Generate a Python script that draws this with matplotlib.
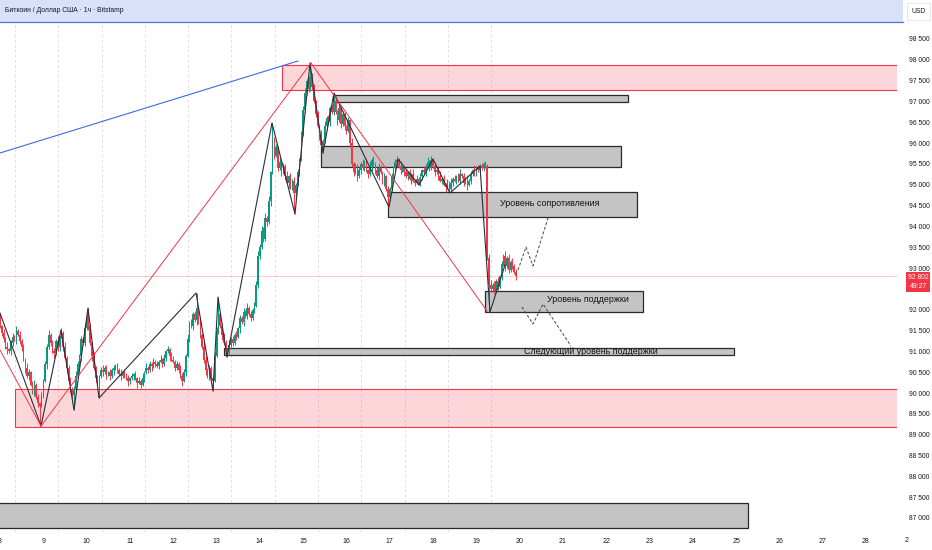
import matplotlib
matplotlib.use("Agg")
import matplotlib.pyplot as plt
from matplotlib.patches import Rectangle
import numpy as np

# hourly candles from Feb 8 00:00, closes in thousands of USD, one row per day
first_open_k = 91.75
closes_k = [
    # Feb 8
    91.60, 91.45, 91.30, 91.10, 91.05, 91.00, 91.20, 91.35, 91.30, 91.50, 91.40, 91.25,
    91.10, 90.80, 90.60, 90.40, 90.50, 90.20, 90.05, 90.20, 89.90, 89.75, 89.70, 89.95,
    # Feb 9
    90.30, 90.70, 91.10, 91.40, 91.20, 91.00, 90.95, 91.25, 91.10, 91.35, 91.45, 91.10,
    90.85, 90.60, 90.30, 90.10, 89.95, 90.10, 90.40, 90.70, 90.90, 91.30, 91.20, 91.55,
    # Feb 10
    91.80, 91.60, 91.20, 90.90, 90.60, 90.35, 90.20, 90.40, 90.55, 90.50, 90.60, 90.45,
    90.50, 90.40, 90.55, 90.60, 90.65, 90.55, 90.45, 90.40, 90.50, 90.45, 90.35, 90.30,
    # Feb 11
    90.35, 90.40, 90.45, 90.35, 90.25, 90.30, 90.20, 90.35, 90.50, 90.60, 90.55, 90.70,
    90.65, 90.75, 90.70, 90.65, 90.75, 90.80, 90.70, 90.85, 91.00, 91.05, 90.90, 90.80,
    # Feb 12
    90.75, 90.60, 90.70, 90.55, 90.40, 90.30, 90.50, 90.90, 91.30, 91.70, 91.60, 91.90,
    91.75, 92.05, 91.70, 91.40, 91.10, 90.80, 90.55, 90.40, 90.60, 90.35, 90.30, 90.90,
    # Feb 13
    91.50, 91.90, 91.60, 91.40, 91.20, 91.05, 91.00, 91.15, 91.30, 91.20, 91.40, 91.35,
    91.55, 91.80, 91.70, 91.95, 91.85, 92.05, 91.90, 91.80, 92.00, 92.10, 92.60, 93.30,
    # Feb 14
    93.50, 93.90, 93.70, 94.20, 94.10, 94.60, 95.30, 96.10, 95.70, 95.90, 95.40, 95.55,
    95.30, 95.45, 95.20, 95.05, 95.20, 94.95, 95.10, 94.80, 95.00, 95.30, 95.60, 96.20,
    # Feb 15
    96.80, 97.20, 97.50, 97.30, 97.60, 97.35, 97.00, 96.70, 96.40, 96.20, 95.95, 96.05,
    96.40, 96.60, 96.50, 96.85, 96.75, 97.00, 96.75, 96.55, 96.85, 96.45, 96.70, 96.40,
    # Feb 16
    96.30, 96.55, 96.00, 95.50, 95.30, 95.45, 95.20, 95.35, 95.50, 95.40, 95.55, 95.35,
    95.25, 95.45, 95.60, 95.50, 95.35, 95.20, 95.40, 95.30, 95.10, 95.20, 94.90, 94.70,
    # Feb 17
    94.90, 95.20, 95.40, 95.55, 95.60, 95.45, 95.35, 95.40, 95.30, 95.20, 95.30, 95.15,
    95.25, 95.10, 95.05, 95.15, 95.00, 95.20, 95.35, 95.30, 95.45, 95.55, 95.40, 95.60,
    # Feb 18
    95.45, 95.30, 95.35, 95.20, 95.10, 95.15, 95.00, 94.95, 95.05, 94.90, 95.05, 95.15,
    95.10, 95.20, 95.10, 95.25, 95.20, 95.05, 95.15, 95.00, 95.10, 95.25, 95.35, 95.30,
    # Feb 19
    95.40, 95.35, 95.45, 95.40, 95.50, 95.45, 93.25, 92.60, 92.50, 92.60, 92.45, 92.70,
    92.55, 92.80, 93.10, 93.30, 93.05, 93.25, 92.95, 93.15, 93.05, 92.90, 92.80,
]

# wick lengths beyond the body, one digit per candle, in steps of 40 USD
upper_wicks = (
    "212131221312121321231212" "122312213121312212321213" "312121212312121212131212"
    "121212131312121213121212" "212132213121221313212112" "231212131212121213121223"
    "232313121213121312121212" "231322212131312121213121" "121312121312131212321212"
    "121221321212131212121312" "121231212131212312121213" "12121212312121213121212"
)
lower_wicks = (
    "122131221312213121231221" "213121312212131221212312" "121312121213121312121213"
    "212131212121312121212131" "121213121212131212312121" "121312121212131212121212"
    "212121312121212131212121" "121212121312121212131212" "212121312121213121212312"
    "212131212121312121212121" "121212131212121212131212" "21212121212121213121212"
)
# wick extremes (candle index -> thousands USD)
high_marks = {0: 91.92, 34: 91.55, 49: 92.04, 109: 92.40, 121: 92.30, 151: 96.48,
              172: 97.92, 185: 97.20, 220: 95.70, 239: 95.68, 266: 95.50}
low_marks = {22: 89.21, 41: 89.60, 55: 89.88, 118: 90.05, 126: 90.87, 163: 94.30,
             179: 95.76, 215: 94.47, 232: 95.00, 249: 94.85, 270: 93.20, 271: 91.95}

last_price = 92802
countdown = "49:27"

# zones (day from, day to, price low, price high)
pink_zones = [(14.51, 40.0, 97270, 97880), (8.35, 40.0, 89190, 90100)]
gray_boxes = [(15.69, 22.50, 96990, 97150), (15.41, 22.34, 95430, 95930),
              (16.96, 22.71, 94230, 94830), (19.20, 22.85, 91950, 92450),
              (13.17, 24.95, 90920, 91080), (7.00, 25.27, 86750, 87360)]
box_labels = [("Уровень сопротивления", 20.70, 94540),
              ("Уровень поддержки", 21.57, 92240),
              ("Следующий уровень поддержки", 21.64, 91000)]

# drawn lines (day, price)
zigzag = [(8.000, 91921), (8.947, 89208), (9.409, 91513), (9.709, 89592), (10.032, 92041),
          (10.286, 89880), (12.527, 92401), (12.919, 90049), (13.035, 92305), (13.242, 90865),
          (14.282, 96483), (14.813, 94298), (15.159, 97924), (15.460, 95763), (15.714, 97203),
          (16.984, 94466), (17.192, 95619), (17.677, 94995), (17.999, 95619), (18.393, 94802),
          (19.085, 95451), (19.316, 91945), (19.663, 93074)]
red_lines = [[(8.0, 91033), (8.947, 89208)],
             [(8.947, 89208), (15.182, 97924)],
             [(15.182, 97924), (19.247, 91969)]]
blue_line = [(8.0, 95763), (14.882, 97972)]
path_up = [(19.963, 92954), (20.148, 93506), (20.309, 93050), (20.656, 94202)]
path_down = [(20.055, 92065), (20.309, 91657), (20.540, 92137), (21.187, 91129)]

day_ticks = list(range(8, 29))
price_ticks = list(range(87000, 99000, 500))

UP, DOWN = "#089981", "#f23645"
FONT = ["Liberation Sans Narrow", "Liberation Sans", "DejaVu Sans"]
plt.rcParams["font.family"] = FONT

W, H = 932, 550
fig = plt.figure(figsize=(W / 100, H / 100), dpi=100)
ax = fig.add_axes([0, 18 / H, 897 / W, 532 / H])
px_per_day = 43.3
usd_per_px = 24.01
ax.set_xlim(8.0, 8.0 + 897 / px_per_day)
ax.set_ylim(98500 - (532 - 39) * usd_per_px, 98500 + 39 * usd_per_px)
for s in ax.spines.values():
    s.set_visible(False)

# session grid
for d in range(8, 20):
    ax.axvline(d + 0.346, color="#d6d9e0", lw=0.6, ls=(0, (3, 3)), zorder=0)

for x0, x1, lo, hi in pink_zones:
    ax.add_patch(Rectangle((x0, lo), x1 - x0, hi - lo, facecolor=(0.95, 0.21, 0.27, 0.2),
                           edgecolor="#f23645", lw=0.8, zorder=1))
for x0, x1, lo, hi in gray_boxes:
    ax.add_patch(Rectangle((x0, lo), x1 - x0, hi - lo, facecolor="#c4c4c4",
                           edgecolor="#2a2a2a", lw=0.9, zorder=2))

# candles
closes = np.array(closes_k) * 1000
opens = np.concatenate([[first_open_k * 1000], closes[:-1]])
n = len(closes)
t = 8.0 + np.arange(n) / 24
highs = np.maximum(opens, closes) + np.array([int(c) for c in upper_wicks[:n]]) * 40
lows = np.minimum(opens, closes) - np.array([int(c) for c in lower_wicks[:n]]) * 40
for i, v in high_marks.items():
    highs[i] = v * 1000
for i, v in low_marks.items():
    lows[i] = v * 1000
cols = np.where(closes >= opens, UP, DOWN)
ax.vlines(t, lows, highs, colors=cols, lw=0.7, zorder=3)
body = np.maximum(np.abs(closes - opens), 25)
ax.bar(t, body, bottom=np.minimum(opens, closes), width=0.8 / 24, color=cols, lw=0, zorder=4)

# drawings
ax.plot(*zip(*zigzag), color="#2a2e39", lw=0.8, zorder=5)
for seg in red_lines:
    ax.plot(*zip(*seg), color="#f23645", lw=0.7, zorder=5)
ax.plot(*zip(*blue_line), color="#3d6be0", lw=0.8, zorder=5)
for p in (path_up, path_down):
    ax.plot(*zip(*p), color="#444444", lw=0.7, ls=(0, (3, 2)), zorder=5)
ax.axhline(last_price, color="#f23645", lw=0.6, alpha=0.3, zorder=2)

for txt, x, y in box_labels:
    ax.text(x, y, txt, ha="center", va="center", fontsize=6.4, color="#111111", zorder=6)

# axes labels; the tick under the last-price tag stays hidden as on the chart
ax.set_xticks(day_ticks)
ax.set_xticklabels([str(d) for d in day_ticks])
ax.set_yticks(price_ticks)
ax.set_yticklabels(["" if v == 92500 else f"{v:,}".replace(",", " ") for v in price_ticks])
ax.yaxis.tick_right()
ax.tick_params(axis="x", length=0, pad=4, labelsize=5, labelcolor="#131722")
ax.tick_params(axis="y", length=0, pad=8.5, labelsize=4.9, labelcolor="#131722")
fig.text(907 / W, 1 - 541 / H, "2", ha="center", va="center", fontsize=5, color="#131722")

# header band
fig.patches.append(Rectangle((0, 1 - 22 / H), 903 / W, 22 / H, transform=fig.transFigure,
                             facecolor="#d9e0f9", edgecolor="none", zorder=10))
fig.add_artist(plt.Line2D([0, 903 / W], [1 - 22 / H] * 2, color="#4a74d8", lw=0.9,
                          transform=fig.transFigure, zorder=11))
fig.text(5 / W, 1 - 11 / H, "Биткоин / Доллар США · 1ч · Bitstamp", ha="left", va="center",
         fontsize=4.9, color="#131722", zorder=12)
fig.patches.append(Rectangle((907 / W, 1 - 20 / H), 23 / W, 17 / H, transform=fig.transFigure,
                             facecolor="white", edgecolor="#e0e3eb", lw=0.6, zorder=10))
fig.text(918.5 / W, 1 - 11.5 / H, "USD", ha="center", va="center", fontsize=4.9,
         color="#131722", zorder=12)

# last price tag
fig.patches.append(Rectangle((906 / W, 1 - 292 / H), 24 / W, 20 / H, transform=fig.transFigure,
                             facecolor="#f23645", edgecolor="none", zorder=10))
fig.text(918 / W, 1 - 277.5 / H, f"{last_price:,}".replace(",", " "), ha="center", va="center",
         fontsize=4.9, color="white", zorder=12)
fig.text(918 / W, 1 - 286.5 / H, countdown, ha="center", va="center", fontsize=4.9,
         color="white", zorder=12)

fig.savefig("out.png", dpi=100)
